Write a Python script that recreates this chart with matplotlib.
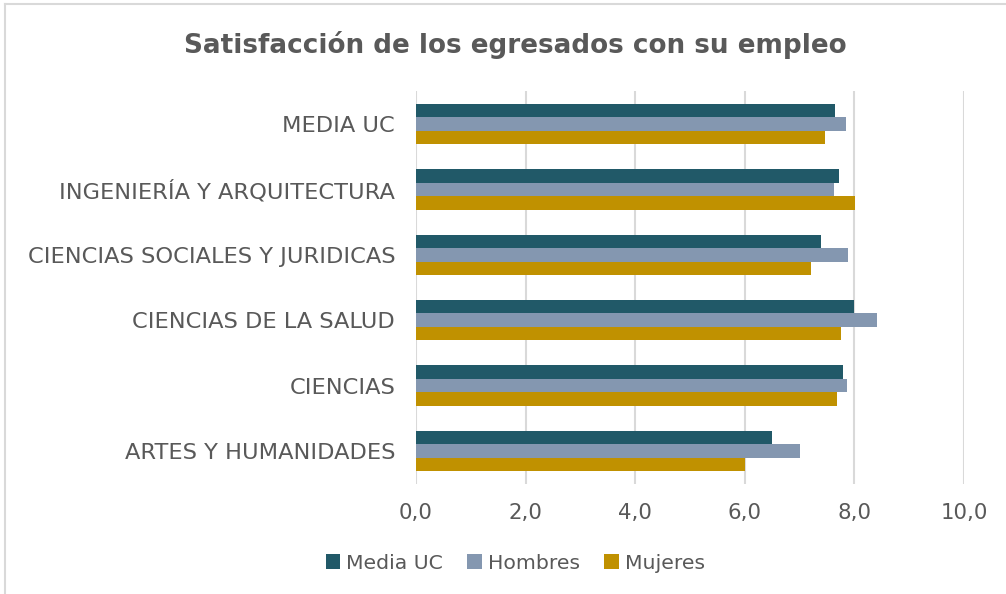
import numpy as np
import matplotlib.pyplot as plt
from matplotlib.lines import Line2D
from matplotlib.ticker import FuncFormatter

categorias = ['MEDIA UC', 'INGENIERÍA Y ARQUITECTURA', 'CIENCIAS SOCIALES Y JURIDICAS',
              'CIENCIAS DE LA SALUD', 'CIENCIAS', 'ARTES Y HUMANIDADES']
media_uc = [7.65, 7.72, 7.39, 7.99, 7.80, 6.50]
hombres = [7.85, 7.62, 7.88, 8.41, 7.87, 7.01]
mujeres = [7.47, 8.01, 7.21, 7.75, 7.69, 6.00]
series = ['Media UC', 'Hombres', 'Mujeres']
colores = ['#215968', '#8497B0', '#C09100']

fig = plt.figure(figsize=(10.06, 5.94), dpi=100)
ax = fig.add_axes([0.4135, 0.186, 0.5447, 0.66])

y = np.arange(len(categorias))
h = 0.205
for i, (vals, nombre, c) in enumerate(zip([media_uc, hombres, mujeres], series, colores)):
    ax.barh(y + (i - 1) * h, vals, height=h, color=c, label=nombre, zorder=3)

ax.set_xlim(0, 10)
ax.set_ylim(len(categorias) - 0.5, -0.5)
ax.set_xticks(np.arange(0, 11, 2))
ax.xaxis.set_major_formatter(FuncFormatter(lambda v, p: f'{v:.1f}'.replace('.', ',')))
ax.set_yticks(y)
ax.set_yticklabels(categorias)
ax.tick_params(axis='both', length=0, colors='#595959')
ax.tick_params(axis='y', pad=15, labelsize=16.2)
ax.tick_params(axis='x', pad=14, labelsize=15.3)
for s in ax.spines.values():
    s.set_visible(False)
ax.grid(axis='x', color='#d9d9d9', linewidth=1.5, zorder=0)

fig.text(0.512, 0.925, 'Satisfacción de los egresados con su empleo', ha='center', va='center',
         fontsize=18.9, fontweight='bold', color='#595959')

fig.legend(loc='center', bbox_to_anchor=(0.512, 0.052), ncol=3, frameon=False,
           fontsize=14.7, labelcolor='#595959', handlelength=0.7, handleheight=0.7,
           handletextpad=0.3, columnspacing=1.2)

# marco exterior
fig.add_artist(Line2D([5 / 1006, 5 / 1006], [0, 1 - 4 / 594], color='#d9d9d9', linewidth=1.5))
fig.add_artist(Line2D([5 / 1006, 1], [1 - 4 / 594, 1 - 4 / 594], color='#d9d9d9', linewidth=1.5))

fig.savefig('out.png', dpi=100)
